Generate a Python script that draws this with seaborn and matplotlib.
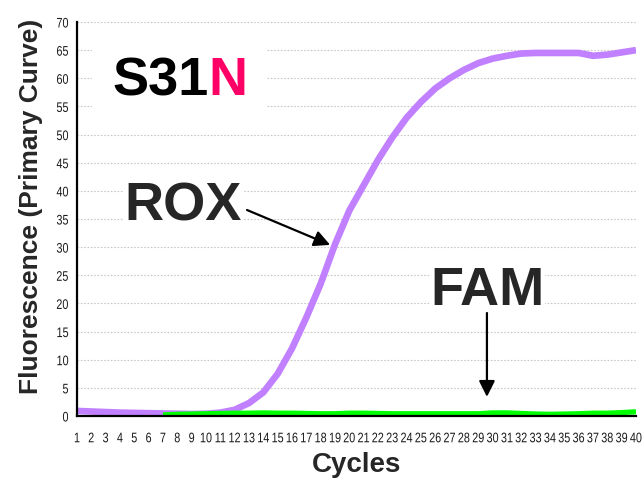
import numpy as np
import pandas as pd
import matplotlib
matplotlib.use("Agg")
import matplotlib.pyplot as plt
import seaborn as sns
from matplotlib.ticker import MultipleLocator
from matplotlib.patches import Rectangle
from matplotlib.patheffects import AbstractPathEffect
from matplotlib.transforms import Affine2D

# ---- data ----
cycles = list(range(1, 41))
rox = [0.9, 0.8, 0.7, 0.6, 0.55, 0.5, 0.45, 0.4, 0.35, 0.4,
       0.6, 1.1, 2.3, 4.2, 7.5, 12.0, 17.5, 23.5, 30.5, 36.5,
       41.0, 45.5, 49.5, 53.0, 55.8, 58.2, 60.0, 61.5, 62.7, 63.5,
       64.0, 64.4, 64.5, 64.5, 64.5, 64.5, 64.0, 64.2, 64.6, 65.0]
fam = [np.nan, np.nan, np.nan, np.nan, np.nan, np.nan, 0.2, 0.3, 0.35, 0.4,
       0.45, 0.5, 0.5, 0.55, 0.5, 0.5, 0.45, 0.4, 0.4, 0.5,
       0.5, 0.45, 0.4, 0.4, 0.4, 0.4, 0.4, 0.4, 0.4, 0.55,
       0.55, 0.45, 0.35, 0.3, 0.35, 0.4, 0.5, 0.5, 0.6, 0.75]
x_ticks = list(range(1, 41))
y_ticks = list(range(0, 71, 5))

df_rox = pd.DataFrame({"Cycle": cycles, "Fluorescence": rox})
df_fam = pd.DataFrame({"Cycle": cycles, "Fluorescence": fam}).dropna()

sns.set_style("white")
plt.rcParams["font.family"] = ["Liberation Sans", "DejaVu Sans"]


class Squeeze(AbstractPathEffect):
    """Horizontally condense glyphs (narrow-font look), anchored by `anchor`."""

    def __init__(self, sx=0.8, anchor="center"):
        super().__init__()
        self.sx = sx
        self.anchor = anchor

    def draw_path(self, renderer, gc, tpath, affine, rgbFace=None):
        v = tpath.vertices
        if len(v):
            xmin, xmax = v[:, 0].min(), v[:, 0].max()
        else:
            xmin = xmax = 0.0
        cx = {"center": (xmin + xmax) / 2, "right": xmax, "left": xmin}[self.anchor]
        t = Affine2D().translate(-cx, 0).scale(self.sx, 1).translate(cx, 0) + affine
        renderer.draw_path(gc, tpath, t, rgbFace)


fig = plt.figure(figsize=(6.43, 4.79), dpi=100)
ax = fig.add_axes([77 / 643, 1 - 416 / 479, (636 - 77) / 643, (416 - 22) / 479])

sns.lineplot(data=df_rox, x="Cycle", y="Fluorescence", color="#C080FF",
             linewidth=4.8, ax=ax, zorder=3, solid_capstyle="butt")
sns.lineplot(data=df_fam, x="Cycle", y="Fluorescence", color="#00FF00",
             linewidth=3.8, ax=ax, zorder=4, solid_capstyle="butt")

ax.set_xlim(1, 40)
ax.set_ylim(0, 70)
ax.set_xticks(x_ticks)
ax.set_yticks(y_ticks)
ax.set_xticklabels([str(v) for v in x_ticks], fontsize=10, color="#1a1a1a",
                   path_effects=[Squeeze(0.78, "center")])
ax.set_yticklabels([str(v) for v in y_ticks], fontsize=10, color="#1a1a1a",
                   path_effects=[Squeeze(0.78, "right")])
ax.xaxis.set_minor_locator(MultipleLocator(0.5))
ax.yaxis.set_minor_locator(MultipleLocator(2.5))
ax.tick_params(axis="x", which="both", direction="out", length=4, width=1,
               color="black", pad=7)
ax.tick_params(axis="y", which="major", direction="out", length=4, width=1.3,
               color="black", pad=2)
ax.tick_params(axis="y", which="minor", direction="out", length=3, width=1.3,
               color="black")

ax.grid(axis="y", which="major", color="#C8C8C8", linestyle=(0, (1.5, 1.5)), linewidth=0.8)
ax.set_axisbelow(True)
for s in ["top", "right"]:
    ax.spines[s].set_visible(False)
for s in ["left", "bottom"]:
    ax.spines[s].set_linewidth(1.6)
    ax.spines[s].set_color("black")
    ax.spines[s].set_zorder(5)

ax.set_xlabel("Cycles", fontsize=20, fontweight="bold", labelpad=5)
ax.set_ylabel("Fluorescence (Primary Curve)", fontsize=19, fontweight="bold")
ax.yaxis.set_label_coords(-0.061, 0.533)

# white box behind sample label
ax.add_patch(Rectangle((0.027, 0.777), 0.312, 0.177, transform=ax.transAxes,
                       facecolor="white", edgecolor="none", zorder=1))
t = ax.text(3.45, 57.0, "S31", fontsize=39, fontweight="bold", color="black",
            ha="left", va="baseline", zorder=6)
ax.annotate("N", xy=(1, 0), xycoords=t, ha="left", va="bottom", fontsize=39,
            fontweight="bold", color="#FF0066", zorder=6)

box = dict(facecolor="white", edgecolor="none", pad=0.5)
ax.text(8.43, 34.8, "ROX", fontsize=39, fontweight="bold", ha="center",
        va="baseline", bbox=box, zorder=6)
ax.text(29.65, 19.7, "FAM", fontsize=39, fontweight="bold", ha="center",
        va="baseline", bbox=box, zorder=6)

arrow = dict(arrowstyle="-|>", mutation_scale=24, lw=1.6, color="black",
             shrinkA=0, shrinkB=0)
ax.annotate("", xy=(18.66, 30.4), xytext=(12.86, 36.6), arrowprops=arrow, zorder=7)
ax.annotate("", xy=(29.6, 3.4), xytext=(29.6, 18.3), arrowprops=arrow, zorder=7)

fig.savefig("out.png", dpi=100)
